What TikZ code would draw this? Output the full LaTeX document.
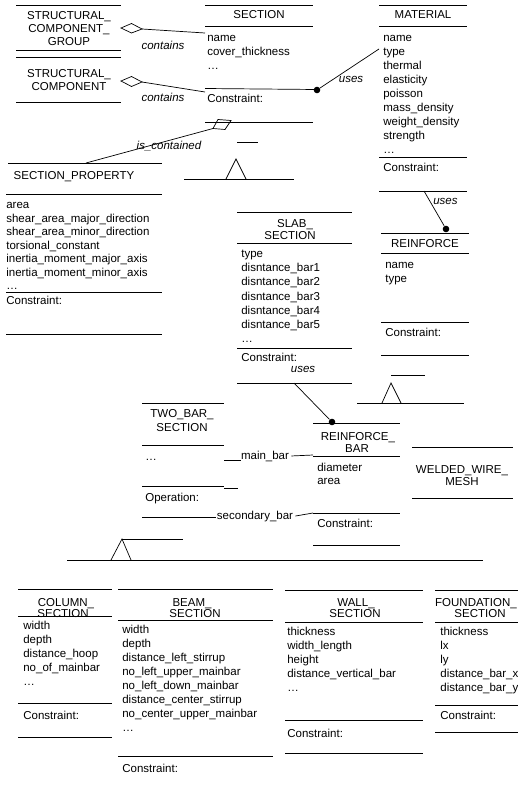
\documentclass[tikz,border=0pt]{standalone}
\usepackage{fontspec}
\setmainfont{Liberation Sans}
\begin{document}
\begin{tikzpicture}[x=1pt, y=-1pt, line width=0.7pt,
    every node/.style={inner sep=0pt, font=\fontsize{11.5}{14}\selectfont},
    ttl/.style={anchor=base},
    attr/.style={anchor=base west},
    rel/.style={anchor=base, font=\fontsize{11.5}{14}\selectfont\itshape},
    dot/.style={circle, fill=black, minimum size=6.6pt}]
    \useasboundingbox (0,0) rectangle (518,787);
    \clip (0,0) rectangle (518,787);

    % STRUCTURAL_COMPONENT_GROUP / STRUCTURAL_COMPONENT
    \draw (16,5) -- (121,5);
    \draw (16,50) -- (121,50);
    \node[ttl] (scg-1) at (69,19.5) {STRUCTURAL\_};
    \node[ttl] (scg-2) at (69,32.5) {COMPONENT\_};
    \node[ttl] (scg-3) at (69,45.5) {GROUP};
    \draw (16,57) -- (121,57);
    \draw (16,102) -- (121,102);
    \node[ttl] (sc-1) at (69,77) {STRUCTURAL\_};
    \node[ttl] (sc-2) at (69,90) {COMPONENT};

    % contains
    \draw (121,28) -- (131.5,23.5) -- (142,29) -- (131.5,33) -- cycle;
    \draw (121,81) -- (131.5,76.5) -- (142,82) -- (131.5,86.5) -- cycle;
    \coordinate (agg-1) at (142,29);
    \coordinate (agg-2) at (142,82);
    \coordinate (sec-in1) at (205,33);
    \coordinate (sec-in2) at (205,92);
    \draw (agg-1) -- (sec-in1);
    \draw (agg-2) -- (sec-in2);
    \node[rel] (contains-1) at (163,49) {contains};
    \node[rel] (contains-2) at (163,101.5) {contains};

    % SECTION
    \draw (205,5) -- (313,5);
    \draw (205,26) -- (313,26);
    \draw (205,88.5) -- (317,89.5);
    \draw (205,122) -- (313,122);
    \node[ttl] (sec-t) at (259,18.5) {SECTION};
    \foreach \a [count=\i from 0] in {name, cover\_thickness, \ldots}
        \node[attr] (sec-a\i) at (207,{41+14*\i}) {\a};
    \node[attr] (sec-c) at (207,102) {Constraint:};

    % is_contained
    \draw (213,128.5) -- (218,119.5) -- (231,120.5) -- (225,129.5) -- cycle;
    \coordinate (agg-3) at (213,128.5);
    \coordinate (prop-in) at (86,163);
    \draw (agg-3) -- (prop-in);
    \node[rel] (contained) at (169,149) {is\_contained};
    \draw (237,142) -- (258,142);

    % generalization of SECTION
    \draw (184,179) -- (294,179);
    \draw (226,179) -- (236,159) -- (246,179);

    % SECTION_PROPERTY
    \draw (8,163) -- (162,163);
    \draw (6,194) -- (162,194);
    \draw (6,292) -- (162,292);
    \draw (6,334) -- (162,334);
    \node[ttl] (prop-t) at (74,179) {SECTION\_PROPERTY};
    \foreach \a [count=\i from 0] in {area, shear\_area\_major\_direction,
        shear\_area\_minor\_direction, torsional\_constant,
        inertia\_moment\_major\_axis, inertia\_moment\_minor\_axis, \ldots}
        \node[attr] (prop-a\i) at (6,{208.5+13.5*\i}) {\a};
    \node[attr] (prop-c) at (6,304) {Constraint:};

    % MATERIAL
    \draw (379,5) -- (467,5);
    \draw (379,26) -- (467,26);
    \draw (379,157) -- (467,157);
    \draw (379,191) -- (467,191);
    \node[ttl] (mat-t) at (423,19) {MATERIAL};
    \foreach \a [count=\i from 0] in {name, type, thermal, elasticity, poisson,
        mass\_density, weight\_density, strength, \ldots}
        \node[attr] (mat-a\i) at (383,{41+14*\i}) {\a};
    \node[attr] (mat-c) at (383,171) {Constraint:};

    % uses SECTION -> MATERIAL
    \node[dot] (dot-1) at (317,90) {};
    \coordinate (mat-in) at (379,49);
    \draw (dot-1) -- (mat-in);
    \node[rel] (uses-1) at (351,82) {uses};

    % uses MATERIAL -> REINFORCE
    \coordinate (mat-out) at (424,191);
    \node[dot] (dot-2) at (446,229) {};
    \draw (mat-out) -- (dot-2);
    \node[rel, anchor=base west] (uses-2) at (433,204) {uses};

    % REINFORCE
    \draw (381,233) -- (469,233);
    \draw (381,253) -- (469,253);
    \draw (381,322) -- (469,322);
    \draw (381,355) -- (469,355);
    \node[ttl] (rein-t) at (425,247) {REINFORCE};
    \node[attr] (rein-a0) at (385,268) {name};
    \node[attr] (rein-a1) at (385,282) {type};
    \node[attr] (rein-c) at (385,336) {Constraint:};

    % generalization of REINFORCE
    \draw (391,375) -- (425,375);
    \draw (382,403) -- (391,383) -- (401,403);
    \draw (357,403) -- (464,403);

    % SLAB_SECTION
    \draw (237,212) -- (352,212);
    \draw (237,243) -- (352,243);
    \draw (237,348) -- (352,348);
    \draw (237,383) -- (352,383);
    \node[ttl] (slab-t1) at (295,227) {SLAB\_};
    \node[ttl] (slab-t2) at (290,239) {SECTION};
    \foreach \a [count=\i from 0] in {type, disntance\_bar1, disntance\_bar2,
        disntance\_bar3, disntance\_bar4, disntance\_bar5, \ldots}
        \node[attr] (slab-a\i) at (241,{257.5+14.2*\i}) {\a};
    \node[attr] (slab-c) at (241,361) {Constraint:};

    % uses SLAB_SECTION -> REINFORCE_BAR
    \coordinate (slab-out) at (294,383);
    \node[dot] (dot-3) at (332,422) {};
    \draw (slab-out) -- (dot-3);
    \node[rel] (uses-3) at (303,372) {uses};

    % TWO_BAR_SECTION
    \draw (142,403) -- (224,403);
    \draw (142,445) -- (224,445);
    \draw (142,486) -- (224,486);
    \draw (224,488) -- (238,488);
    \node[ttl] (two-t1) at (182,417.5) {TWO\_BAR\_};
    \node[ttl] (two-t2) at (182,431) {SECTION};
    \node[attr] (two-a0) at (145,460) {\ldots};
    \node[attr] (two-o) at (145,501) {Operation:};

    % main_bar / secondary_bar
    \node[ttl] (mainbar) at (265,459) {main\_bar};
    \coordinate (two-main) at (224,460);
    \coordinate (rbar-main) at (313,455);
    \draw (two-main) -- (two-main -| mainbar.west);
    \draw ([xshift=2pt]mainbar.east) -- (rbar-main);
    \node[ttl] (secbar) at (255,519) {secondary\_bar};
    \coordinate (two-sec) at (142,517);
    \coordinate (rbar-sec) at (313,513);
    \draw (two-sec) -- ([xshift=-1pt]two-sec -| secbar.west);
    \draw ([xshift=2pt]secbar.east) -- (rbar-sec);

    % REINFORCE_BAR
    \draw (313,423) -- (400,423);
    \draw (313,456) -- (400,456);
    \draw (313,513) -- (400,513);
    \draw (313,545) -- (400,545);
    \node[ttl] (rbar-t1) at (358,440) {REINFORCE\_};
    \node[ttl] (rbar-t2) at (357,452.5) {BAR};
    \node[attr] (rbar-a0) at (317,471) {diameter};
    \node[attr] (rbar-a1) at (317,484) {area};
    \node[attr] (rbar-c) at (317,527.5) {Constraint:};

    % WELDED_WIRE_MESH
    \draw (412,447) -- (513,447);
    \draw (412,498) -- (513,498);
    \node[ttl] (mesh-t1) at (462,473.5) {WELDED\_WIRE\_};
    \node[ttl] (mesh-t2) at (462,485.5) {MESH};

    % generalization of the member sections
    \draw (122,539) -- (183,539);
    \draw (111,560) -- (122,539) -- (131,560);
    \draw (67,560) -- (483,560);

    % COLUMN_SECTION
    \draw (18,589) -- (112,589);
    \draw (18,616.5) -- (112,616.5);
    \draw (18,703) -- (112,703);
    \draw (18,737) -- (112,737);
    \node[ttl] (col-t1) at (66,606) {COLUMN\_};
    \node[ttl] (col-t2) at (63,617.5) {SECTION};
    \foreach \a [count=\i from 0] in {width, depth, distance\_hoop,
        no\_of\_mainbar, \ldots}
        \node[attr] (col-a\i) at (23,{629+14*\i}) {\a};
    \node[attr] (col-c) at (23,719) {Constraint:};

    % BEAM_SECTION
    \draw (118,589) -- (273,589);
    \draw (118,620) -- (273,620);
    \draw (118,756) -- (273,756);
    \node[ttl] (beam-t1) at (192,606) {BEAM\_};
    \node[ttl] (beam-t2) at (195,617.5) {SECTION};
    \foreach \a [count=\i from 0] in {width, depth, distance\_left\_stirrup,
        no\_left\_upper\_mainbar, no\_left\_down\_mainbar,
        distance\_center\_stirrup, no\_center\_upper\_mainbar, \ldots}
        \node[attr] (beam-a\i) at (122,{633+14.1*\i}) {\a};
    \node[attr] (beam-c) at (122,772.5) {Constraint:};

    % WALL_SECTION
    \draw (285,590) -- (423,590);
    \draw (285,622) -- (423,622);
    \draw (285,720) -- (423,720);
    \draw (285,753) -- (423,753);
    \node[ttl] (wall-t1) at (356,606) {WALL\_};
    \node[ttl] (wall-t2) at (355,617.5) {SECTION};
    \foreach \a [count=\i from 0] in {thickness, width\_length, height,
        distance\_vertical\_bar, \ldots}
        \node[attr] (wall-a\i) at (287,{635.5+14*\i}) {\a};
    \node[attr] (wall-c) at (287,737.5) {Constraint:};

    % FOUNDATION_SECTION
    \draw (435,590) -- (518,590);
    \draw (435,622) -- (518,622);
    \draw (435,705) -- (518,705);
    \draw (435,732) -- (518,732);
    \node[ttl] (fnd-t1) at (476,606) {FOUNDATION\_};
    \node[ttl] (fnd-t2) at (480,617.5) {SECTION};
    \foreach \a [count=\i from 0] in {thickness, lx, ly, distance\_bar\_x,
        distance\_bar\_y}
        \node[attr] (fnd-a\i) at (440,{635.5+14*\i}) {\a};
    \node[attr] (fnd-c) at (440,719) {Constraint:};
\end{tikzpicture}
\end{document}
